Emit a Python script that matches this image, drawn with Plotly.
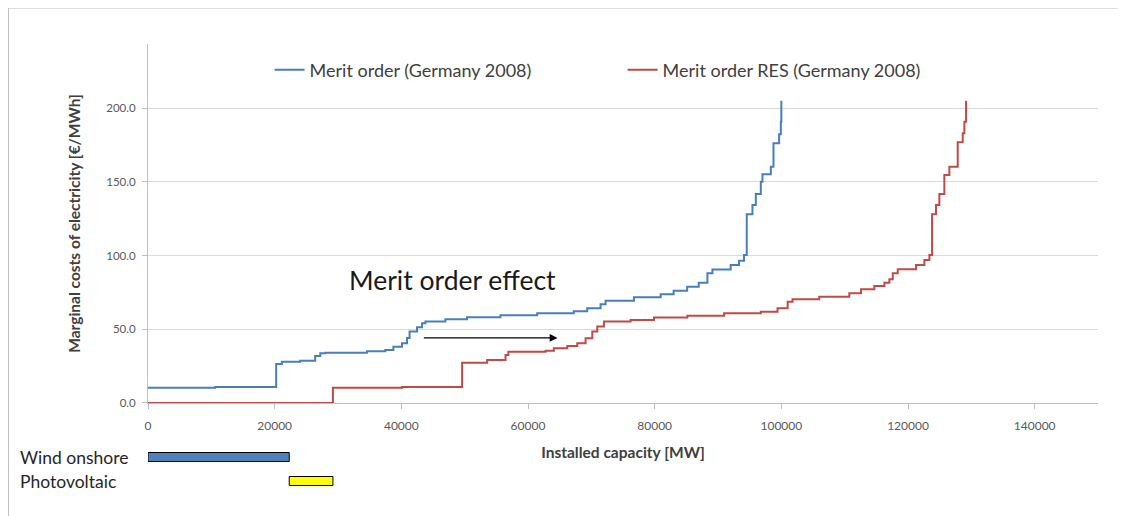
import plotly.graph_objects as go

# merit order curve, Germany 2008 (step starts in MW, marginal cost in EUR/MWh)
merit_x = [0, 10600, 20240, 21130, 24030, 26400, 27200, 28000, 34570, 37470,
           38740, 40100, 40900, 41300, 42480, 43270, 43800, 46950, 50380, 55650,
           61450, 67230, 69350, 71460, 72250, 76730, 80950, 83000, 85130, 86960,
           88330, 89120, 92000, 93320, 94100, 94540, 95440, 95970, 96760, 97020,
           98340, 98760, 99650, 99920, 100000]
merit_y = [10.4, 10.8, 26.5, 28.0, 28.7, 31.9, 33.7, 34.1, 35.1, 36.0,
           38.2, 40.5, 44.0, 48.4, 51.3, 54.1, 55.2, 56.8, 58.1, 59.5,
           60.8, 62.2, 64.2, 67.0, 69.4, 71.7, 73.7, 76.2, 78.9, 81.6,
           88.0, 90.5, 93.6, 96.5, 100.4, 128.0, 134.3, 141.8, 150.1, 155.1,
           160.3, 176.2, 182.3, 190.8, 205.0]

# merit order with renewables in front
res_x = [0, 29200, 40100, 49600, 53550, 56450, 56900, 62770, 64080, 66200,
         67780, 69090, 70150, 70940, 71990, 76200, 79890, 85160, 90960, 96760,
         99400, 101000, 101770, 105990, 110730, 112580, 114690, 116270, 117060, 117590,
         118380, 121270, 122590, 123380, 123800, 124420, 124950, 125740, 126530, 127850,
         128640, 128900, 129170]
res_y = [0.0, 10.4, 10.8, 27.3, 29.2, 32.6, 34.8, 35.5, 37.1, 38.7,
         40.5, 43.9, 48.4, 51.8, 55.2, 56.3, 57.9, 59.2, 60.8, 61.9,
         64.2, 68.7, 70.3, 72.1, 74.4, 77.1, 79.4, 81.6, 83.9, 88.0,
         90.7, 93.6, 97.0, 100.4, 128.0, 134.3, 141.8, 154.7, 160.3, 176.8,
         183.0, 190.8, 205.0]

# renewable capacity blocks
res_labels = ["Photovoltaic", "Wind onshore"]
res_start = [22300, 0]
res_end = [29200, 22300]
res_colors = ["#FFFF00", "#4F81BD"]

FONT = "Lato"
TXT = "#404040"

fig = go.Figure()
fig.add_trace(go.Scatter(x=merit_x, y=merit_y, mode="lines", line_shape="hv",
                         name="Merit order (Germany 2008)",
                         line=dict(color="#4A7EBB", width=2)))
fig.add_trace(go.Scatter(x=res_x, y=res_y, mode="lines", line_shape="hv",
                         name="Merit order RES (Germany 2008)",
                         line=dict(color="#BE4B48", width=2)))
fig.add_trace(go.Bar(y=res_labels, x=[e - s for s, e in zip(res_start, res_end)],
                     base=res_start, orientation="h", yaxis="y2", width=0.375,
                     marker=dict(color=res_colors, line=dict(color="black", width=1)),
                     showlegend=False, hoverinfo="skip"))

for lab in res_labels:
    fig.add_annotation(x=-0.137, xref="paper", y=lab, yref="y2", text=lab,
                       showarrow=False, xanchor="left",
                       font=dict(family=FONT, size=17.5, color="#262626"))

fig.add_annotation(x=48060, y=83.4, text="Merit order effect", showarrow=False,
                   font=dict(family=FONT, size=26.5, color="#1a1a1a"))
fig.add_annotation(x=64660, y=44.1, ax=43320, ay=44.1, axref="x", ayref="y",
                   text="", showarrow=True, arrowhead=2, arrowsize=1.2,
                   arrowwidth=1.3, arrowcolor="black")

# chart frame
fig.add_shape(type="rect", xref="paper", yref="paper", x0=-0.1468, x1=1.5,
              y0=-0.5, y1=1.0796, line=dict(color="#BFBFBF", width=1))

fig.update_layout(
    width=1118, height=508,
    margin=dict(l=140, r=28, t=36, b=20),
    plot_bgcolor="white", paper_bgcolor="white",
    font=dict(family=FONT, color=TXT),
    showlegend=True,
    legend=dict(orientation="h", x=0.128, y=0.9425, yanchor="middle",
                xanchor="left", entrywidth=308, entrywidthmode="pixels",
                font=dict(family=FONT, size=18, color=TXT), itemwidth=30),
    xaxis=dict(range=[0, 150000], tickvals=list(range(0, 150000, 20000)),
               tickformat="d",
               ticks="outside", ticklen=5, tickcolor="#BFBFBF",
               ticklabelstandoff=7,
               showline=True, linecolor="#BFBFBF", showgrid=False, zeroline=False,
               tickfont=dict(size=12, color="#595959"),
               title=dict(text="<b>Installed capacity [MW]</b>", standoff=14,
                          font=dict(size=15.5, color=TXT)),
               anchor="y"),
    yaxis=dict(domain=[0.2058, 1], range=[0, 243.5], tickvals=[0, 50, 100, 150, 200],
               tickformat=".1f", ticks="outside", ticklen=5, tickcolor="#BFBFBF",
               ticklabelstandoff=4,
               showline=True, linecolor="#BFBFBF", gridcolor="#D9D9D9",
               zeroline=False, tickfont=dict(size=11.5, color="#595959"),
               title=dict(text="<b>Marginal costs of electricity [€/MWh]</b>",
                          standoff=21, font=dict(size=15.5, color=TXT))),
    yaxis2=dict(domain=[0.0066, 0.1128], range=[-0.5, 1.5], anchor="x",
                visible=False, fixedrange=True),
)

fig.write_html("out.html")
